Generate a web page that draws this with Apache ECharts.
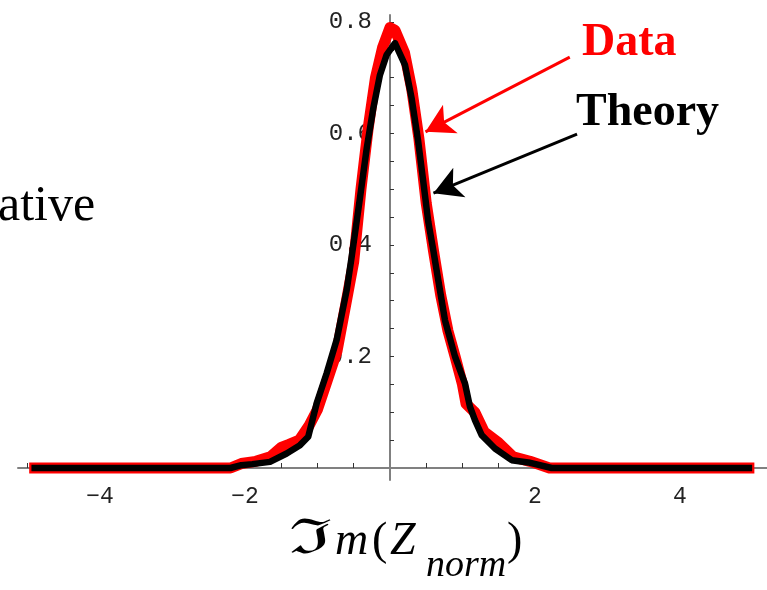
<!DOCTYPE html>
<html>
<head>
<meta charset="utf-8">
<script src="https://cdn.jsdelivr.net/npm/echarts@6/dist/echarts.min.js"></script>
<style>
  html, body { margin: 0; padding: 0; background: #fff; }
  #main { width: 767px; height: 590px; }
</style>
</head>
<body>
<div id="main"></div>
<script>
// theory curve (black)
var theoryX = [-4.9, -2.2, -2.05, -1.9, -1.655, -1.425, -1.241, -1.127, -1.011, -0.873, -0.735, -0.597, -0.528,
  -0.414, -0.321, -0.23, -0.138, -0.046, 0.069, 0.207, 0.299, 0.39, 0.459, 0.528, 0.597, 0.666, 0.759,
  0.897, 1.034, 1.103, 1.172, 1.265, 1.448, 1.679, 1.908, 2.23, 4.95];
var theoryY = [0, 0, 0.005, 0.007, 0.011, 0.026, 0.041, 0.056, 0.116, 0.17, 0.23, 0.319, 0.379,
  0.484, 0.573, 0.645, 0.705, 0.741, 0.762, 0.723, 0.663, 0.585, 0.514, 0.442, 0.391, 0.337, 0.265,
  0.2, 0.152, 0.11, 0.086, 0.059, 0.035, 0.014, 0.01, 0, 0];

// measured data (red)
var dataX = [-4.9, -2.2, -2.05, -1.85, -1.65, -1.5, -1.4, -1.25, -1.12, -1.0, -0.87, -0.73, -0.6, -0.5,
  -0.4, -0.3, -0.2, -0.1, 0.0, 0.07, 0.2, 0.3, 0.4, 0.5, 0.6, 0.7, 0.8, 0.9, 1.0, 1.05, 1.17, 1.3,
  1.5, 1.7, 1.93, 2.2, 4.95];
var dataY = [0, 0, 0.008, 0.012, 0.02, 0.037, 0.042, 0.05, 0.075, 0.105, 0.155, 0.21, 0.3, 0.37,
  0.5, 0.61, 0.7, 0.755, 0.79, 0.785, 0.745, 0.68, 0.59, 0.475, 0.39, 0.31, 0.246, 0.199, 0.15, 0.115, 0.1, 0.065,
  0.045, 0.02, 0.012, 0, 0];

var xLabels = [-4, -2, 2, 4];
var yLabels = [0.2, 0.4, 0.6, 0.8];
var xTicks = [-5, -4.5, -4, -3.5, -3, -2.5, -2, -1.5, -1, -0.5, 0.5, 1, 1.5, 2, 2.5, 3, 3.5, 4, 4.5, 5];
var yTicks = [0.05, 0.1, 0.15, 0.2, 0.25, 0.3, 0.35, 0.4, 0.45, 0.5, 0.55, 0.6, 0.65, 0.7, 0.75, 0.8];

function pairs(xs, ys) {
  return xs.map(function (x, i) { return [x, ys[i]]; });
}

var myChart = echarts.init(document.getElementById('main'));

var serif = "'Liberation Serif', 'Times New Roman', serif";

var option = {
  animation: false,
  grid: { left: 18, right: 0, top: 15, bottom: 110, containLabel: false, outerBoundsMode: 'none' },
  xAxis: {
    type: 'value',
    min: -5.13,
    max: 5.2,
    position: 'bottom',
    offset: -12,   // x axis sits on y = 0
    splitLine: { show: false },
    axisLine: { onZero: false, lineStyle: { color: '#808080', width: 2 } },
    axisTick: { inside: true, length: 5, customValues: xTicks, lineStyle: { color: '#333', width: 1 } },
    axisLabel: {
      customValues: xLabels,
      margin: 17,
      color: '#222',
      fontFamily: "'Liberation Mono', monospace",
      fontSize: 23,
      formatter: function (v) { return String(v).replace('-', '\u2212'); }
    }
  },
  yAxis: {
    type: 'value',
    min: -0.0215,
    max: 0.8125,
    position: 'left',
    offset: -372,  // y axis sits on x = 0
    splitLine: { show: false },
    axisLine: { onZero: false, lineStyle: { color: '#808080', width: 2 } },
    axisTick: { inside: true, length: 4, customValues: yTicks, lineStyle: { color: '#333', width: 1 } },
    axisLabel: {
      customValues: yLabels,
      margin: 18,
      color: '#222',
      fontFamily: "'Liberation Mono', monospace",
      fontSize: 24
    }
  },
  series: [
    {
      name: 'Data',
      type: 'line',
      data: pairs(dataX, dataY),
      showSymbol: false,
      silent: true,
      lineStyle: { color: '#ff0000', width: 11, cap: 'square', join: 'round' },
      markLine: {
        silent: true,
        symbol: ['none', 'arrow'],
        symbolSize: [24, 28],
        label: { show: false },
        lineStyle: { color: '#ff0000', width: 3, type: 'solid' },
        data: [[{ coord: [2.48, 0.737] }, { coord: [0.49, 0.603] }]]
      }
    },
    {
      name: 'Theory',
      type: 'line',
      data: pairs(theoryX, theoryY),
      showSymbol: false,
      silent: true,
      lineStyle: { color: '#000', width: 6.5, cap: 'square', join: 'round' },
      markLine: {
        silent: true,
        symbol: ['none', 'arrow'],
        symbolSize: [24, 28],
        label: { show: false },
        lineStyle: { color: '#000', width: 3, type: 'solid' },
        data: [[{ coord: [2.58, 0.599] }, { coord: [0.6, 0.493] }]]
      }
    }
  ],
  graphic: [
    { type: 'text', x: 582, y: 43, style: { text: 'Data', font: 'bold 46px ' + serif, fill: '#ff0000', verticalAlign: 'middle' } },
    { type: 'text', x: 576, y: 113, style: { text: 'Theory', font: 'bold 46px ' + serif, fill: '#000', verticalAlign: 'middle' } },
    { type: 'text', x: -2, y: 207, style: { text: 'ative', font: '50px ' + serif, fill: '#000', verticalAlign: 'middle' } },
    { type: 'text', x: 289, y: 541, scaleX: 1.6, style: { text: '\u2111', font: "48px 'DejaVu Serif', serif", fill: '#000', verticalAlign: 'middle' } },
    { type: 'text', x: 335, y: 542, style: { text: 'm', font: 'italic 46px ' + serif, fill: '#000', verticalAlign: 'middle' } },
    { type: 'text', x: 372, y: 542, style: { text: '(', font: '46px ' + serif, fill: '#000', verticalAlign: 'middle' } },
    { type: 'text', x: 390, y: 542, style: { text: 'Z', font: 'italic 46px ' + serif, fill: '#000', verticalAlign: 'middle' } },
    { type: 'text', x: 426, y: 566, style: { text: 'norm', font: 'italic 38px ' + serif, fill: '#000', verticalAlign: 'middle' } },
    { type: 'text', x: 507, y: 542, style: { text: ')', font: '46px ' + serif, fill: '#000', verticalAlign: 'middle' } }
  ]
};

myChart.setOption(option);
</script>
</body>
</html>
